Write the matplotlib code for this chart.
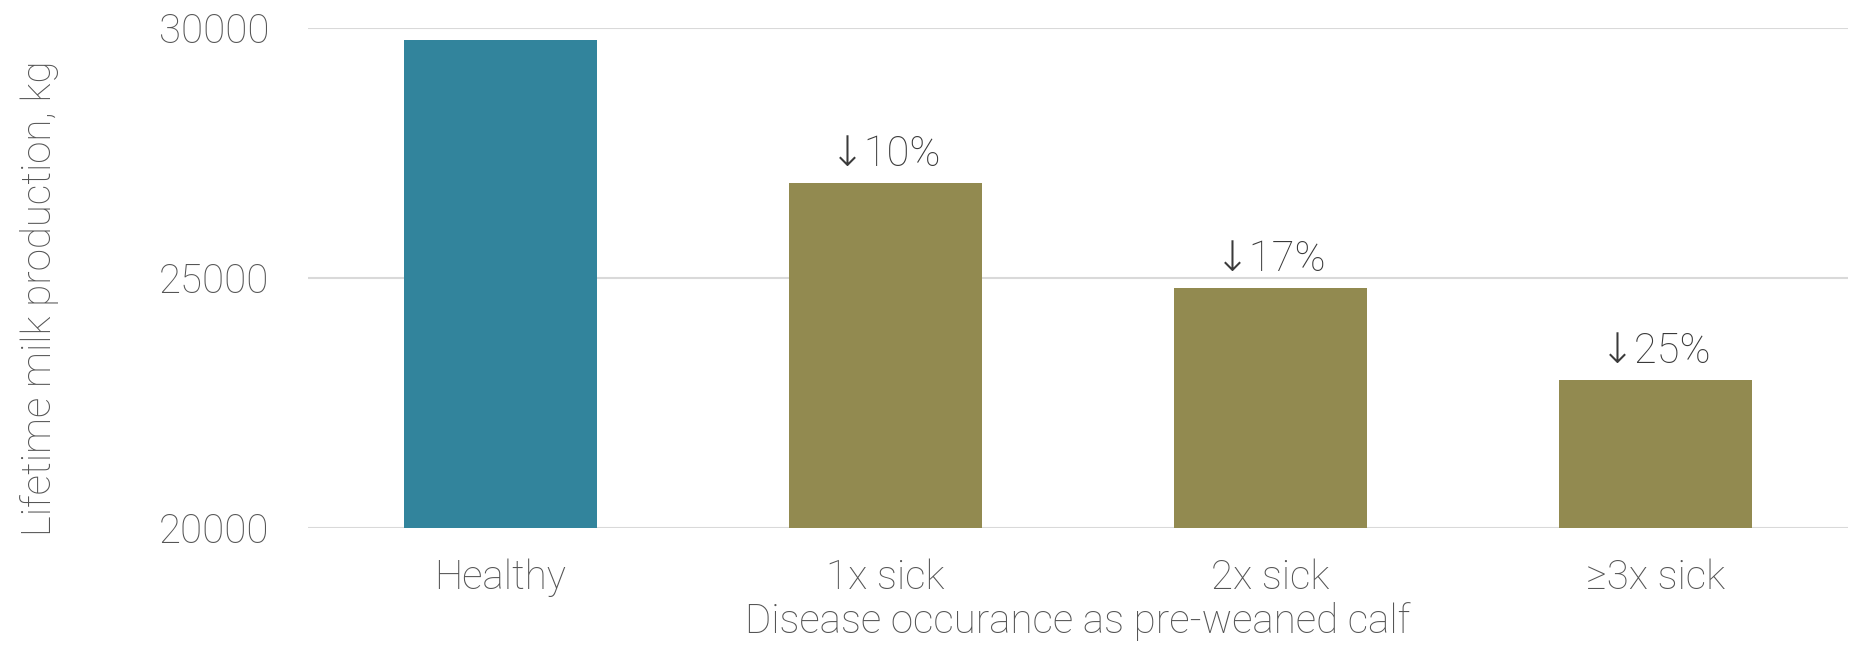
import matplotlib
matplotlib.use("Agg")
import matplotlib.pyplot as plt

plt.rcParams['font.family'] = ['Roboto', 'DejaVu Sans']

# data
categories = ["Healthy", "1x sick", "2x sick", "≥3x sick"]
milk_kg = [29760, 26890, 24790, 22950]
drops = ["", "↓10%", "↓17%", "↓25%"]
bar_colors = ["#32849C", "#928A50", "#928A50", "#928A50"]

text_col = "#555555"


def main():
    fig = plt.figure(figsize=(18.55, 6.57), dpi=100)
    ax = fig.add_axes([0.166, 0.197, 0.8302, 0.7604])

    xs = range(len(categories))
    bars = ax.bar(xs, milk_kg, width=0.5, color=bar_colors, zorder=2)

    for bar, lab in zip(bars, drops):
        if not lab:
            continue
        ax.annotate(lab, xy=(bar.get_x() + bar.get_width() / 2, bar.get_height()),
                    xytext=(0, 6), textcoords="offset points",
                    ha="center", va="bottom", fontsize=30, fontweight="light",
                    color="#3a3a3a")

    ax.set_xlim(-0.5, len(categories) - 0.5)
    ax.set_ylim(20000, 30000)
    ax.set_yticks([20000, 25000, 30000])
    ax.set_xticks(list(xs))
    ax.set_xticklabels(categories)

    ax.grid(axis="y", color="#D9D9D9", linewidth=1.5, zorder=0)
    ax.set_axisbelow(True)
    for s in ax.spines.values():
        s.set_visible(False)

    ax.tick_params(axis="both", length=0, labelsize=29, labelcolor=text_col)
    ax.tick_params(axis="y", pad=28)
    ax.tick_params(axis="x", pad=22)
    for t in ax.get_xticklabels() + ax.get_yticklabels():
        t.set_fontweight("light")

    ax.set_xlabel("Disease occurance as pre-weaned calf", fontsize=29,
                  color=text_col, fontweight="light", labelpad=4)
    ax.set_ylabel("Lifetime milk production, kg", fontsize=29,
                  color=text_col, fontweight="light")
    ax.yaxis.label.set_va("center")
    ax.yaxis.set_label_coords(-0.174, 0.46)

    fig.savefig("out.png", dpi=100)


main()
